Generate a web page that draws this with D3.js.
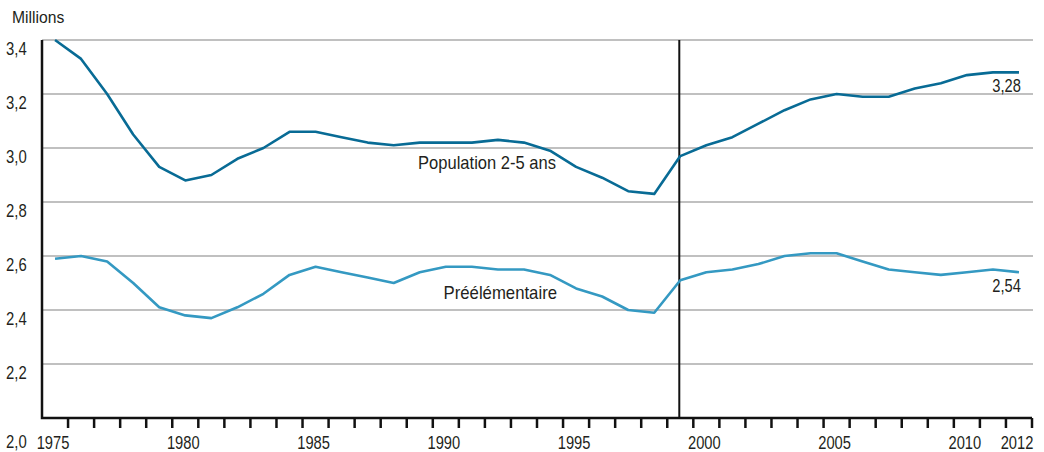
<!DOCTYPE html>
<html>
<head>
<meta charset="utf-8">
<script src="https://cdn.jsdelivr.net/npm/d3@7/dist/d3.min.js"></script>
<style>
  html, body { margin: 0; padding: 0; background: #fff; }
  svg { display: block; }
  text { font-family: "Liberation Sans", Arial, sans-serif; fill: #231f20; }
</style>
</head>
<body>
<svg id="chart" width="1044" height="452"></svg>
<script>
const years = d3.range(1975, 2013);
const population = [3.40, 3.33, 3.20, 3.05, 2.93, 2.88, 2.90, 2.96, 3.00, 3.06,
                    3.06, 3.04, 3.02, 3.01, 3.02, 3.02, 3.02, 3.03, 3.02, 2.99,
                    2.93, 2.89, 2.84, 2.83, 2.97, 3.01, 3.04, 3.09, 3.14, 3.18,
                    3.20, 3.19, 3.19, 3.22, 3.24, 3.27, 3.28, 3.28];
const preelementaire = [2.59, 2.60, 2.58, 2.50, 2.41, 2.38, 2.37, 2.41, 2.46, 2.53,
                        2.56, 2.54, 2.52, 2.50, 2.54, 2.56, 2.56, 2.55, 2.55, 2.53,
                        2.48, 2.45, 2.40, 2.39, 2.51, 2.54, 2.55, 2.57, 2.60, 2.61,
                        2.61, 2.58, 2.55, 2.54, 2.53, 2.54, 2.55, 2.54];
const yTicks = [2.0, 2.2, 2.4, 2.6, 2.8, 3.0, 3.2, 3.4];
const xLabels = [1975, 1980, 1985, 1990, 1995, 2000, 2005, 2010, 2012];
const breakYear = 1999;
const seriesNames = ["Population 2-5 ans", "Préélémentaire"];

(function () {
const svg = d3.select("#chart");
const L = 42, R = 1032, T = 40, B = 418;

const x = d3.scaleBand().domain(years).range([L, R]).paddingInner(0).paddingOuter(0);
const cx = d => x(d) + x.bandwidth() / 2;
const y = d3.scaleLinear().domain([2.0, 3.4]).range([B, T]);
const fmt = v => d3.format(".1f")(v).replace(".", ",");
const fmt2 = v => d3.format(".2f")(v).replace(".", ",");

// condensed text helper
function txt(parent, px, py, str, size, sx, anchor) {
  const g = parent.append("g").attr("transform", `translate(${px},${py}) scale(${sx},1)`);
  g.append("text").attr("x", 0).attr("y", 0)
    .attr("font-size", size).attr("text-anchor", anchor || "start").text(str);
  return g;
}

// gridlines
svg.append("g").selectAll("line").data(yTicks.filter(v => v > 2.0)).join("line")
  .attr("x1", L).attr("x2", R + 1)
  .attr("y1", d => y(d)).attr("y2", d => y(d))
  .attr("stroke", "#ababab").attr("stroke-width", 1.5);

// y labels
const gy = svg.append("g");
yTicks.forEach(v => txt(gy, 6, y(v) + (v === 2.0 ? 30 : 15), fmt(v), 17.5, 0.85));

txt(svg, 12, 23, "Millions", 16, 0.98);

// x ticks (band boundaries)
const boundaries = years.slice(1).map(yv => x(yv)).concat([R]);
svg.append("g").selectAll("line").data(boundaries).join("line")
  .attr("x1", d => d).attr("x2", d => d)
  .attr("y1", B).attr("y2", B + 10)
  .attr("stroke", "#111").attr("stroke-width", 2.5);

// x labels
const gx = svg.append("g");
xLabels.forEach(yr => txt(gx, cx(yr) - 2, 449, String(yr), 17.5, 0.84, "middle"));

// axes lines
svg.append("path")
  .attr("d", `M${L},${T}V${B}H${R}`)
  .attr("fill", "none").attr("stroke", "#111").attr("stroke-width", 2.5);

// break line
svg.append("line")
  .attr("x1", cx(breakYear) - 1).attr("x2", cx(breakYear) - 1)
  .attr("y1", T).attr("y2", B)
  .attr("stroke", "#111").attr("stroke-width", 2);

const line = d3.line().x((d, i) => cx(years[i])).y(d => y(d));

svg.append("path").datum(population)
  .attr("d", line).attr("fill", "none")
  .attr("stroke", "#086b95").attr("stroke-width", 2.6).attr("stroke-linejoin", "round");

svg.append("path").datum(preelementaire)
  .attr("d", line).attr("fill", "none")
  .attr("stroke", "#3499c2").attr("stroke-width", 2.6).attr("stroke-linejoin", "round");

// series labels
txt(svg, cx(1994) + 6, y(2.93) + 2, seriesNames[0], 18, 0.92, "end");
txt(svg, cx(1994) + 7, y(2.44), seriesNames[1], 18, 0.93, "end");

// end values
const lastYear = years[years.length - 1];
txt(svg, cx(lastYear) + 2, y(population[population.length - 1]) + 20,
    fmt2(population[population.length - 1]), 17.5, 0.84, "end");
txt(svg, cx(lastYear) + 2, y(preelementaire[preelementaire.length - 1]) + 20,
    fmt2(preelementaire[preelementaire.length - 1]), 17.5, 0.84, "end");
})();
</script>
</body>
</html>
